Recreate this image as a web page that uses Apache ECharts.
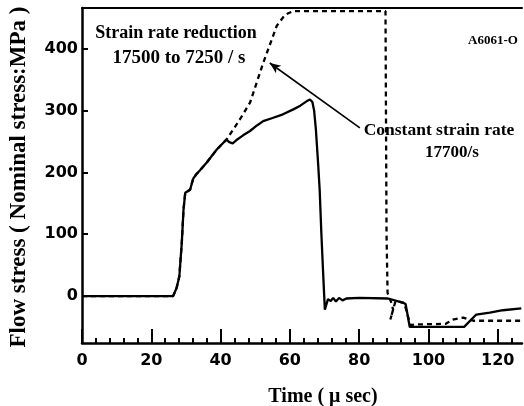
<!DOCTYPE html>
<html>
<head>
<meta charset="utf-8">
<script src="https://cdn.jsdelivr.net/npm/echarts@6.0.0/dist/echarts.min.js"></script>
<style>
html,body{margin:0;padding:0;background:#fff;}
#chart{width:524px;height:406px;}
</style>
</head>
<body>
<div id="chart"></div>
<script>
// Tick labels
var xTickLabels = [0, 20, 40, 60, 80, 100, 120];
var xMinorTicks = [4, 8, 12, 16, 24, 28, 32, 36, 44, 48, 52, 56, 64, 68, 72, 76, 84, 88, 92, 96, 104, 108, 112, 116, 124];
var yTickLabels = [0, 100, 200, 300, 400];

// Constant strain rate 17700/s (solid)
var constantRate = [
  [0,0],[26.3,0],[27.3,13],[28.1,32],[28.8,86],[29.3,140],[29.8,167],[30.3,170],[31.2,172],
  [31.6,180],[32.1,190],[33,197],[34,203],[36,216],[38.9,237],[40.8,248],[41.7,253],
  [42.5,249],[43.5,247],[44.5,252],[46.5,260],[48.5,267],[50.5,276],[52.3,283],[55,288],
  [58,294],[61,302],[63,308],[64.8,315],[65.8,318],[66.5,314],[67.0,300],[67.5,270],
  [68.2,210],[68.6,172],[69.1,100],[69.6,37],[70.1,-22],[70.4,-25],[71,-5],[71.8,-8],
  [72.5,-3],[73.3,-9],[74.2,-3],[75.2,-7],[76.3,-4],[80,-3],[88.3,-4],[90.8,-8],
  [92.7,-11],[93.4,-13],[94.6,-50],[110.3,-50],[113.8,-30],[117.7,-27],[121.5,-23],[126.8,-20]
];

// Strain rate reduction 17500 to 7250/s (dashed)
var rateReduction = [
  [0,0],[26.3,0],[27.3,13],[28.1,32],[28.8,86],[29.3,140],[29.8,167],[30.3,170],[31.2,172],
  [31.6,180],[32.1,190],[33,197],[34,203],[36,216],[38.9,237],[40.8,248],[41.7,253],
  [45.6,286],[48.5,313],[52.3,377],[56.2,437],[58.6,455],[60.9,461],[87.6,461],
  [87.9,100],[88.2,5],[89.3,-11],[89.8,-22],[89.0,-38],[90.5,-8],[93,-11],[94.8,-47],
  [96,-46],[105,-45],[107,-38],[110,-35],[113,-40],[127,-40]
];

// Arrow annotation (data coordinates)
var arrowFrom = [80.2, 272];
var arrowTo = [54.2, 377];

var chart = echarts.init(document.getElementById('chart'), null, {renderer: 'canvas'});
var labelFont = {fontFamily: 'DejaVu Sans', fontWeight: 'bold', fontSize: 16, color: '#000'};
var serif = '"Liberation Serif", "DejaVu Serif", serif';

chart.setOption({
  animation: false,
  backgroundColor: '#fff',
  grid: {left: 82, right: 2, top: 8, bottom: 63, containLabel: false, outerBoundsMode: 'none'},
  xAxis: [
    {
      type: 'value', min: 0, max: 127, position: 'bottom',
      axisLine: {show: true, onZero: false, lineStyle: {color: '#000', width: 2.5}},
      axisTick: {show: true, inside: true, length: 14, customValues: xTickLabels, lineStyle: {color: '#000', width: 2}},
      axisLabel: Object.assign({show: true, margin: 10, customValues: xTickLabels}, labelFont),
      splitLine: {show: false}
    },
    {
      type: 'value', min: 0, max: 127, position: 'bottom',
      axisLine: {show: false, onZero: false},
      axisTick: {show: true, inside: true, length: 5, customValues: xMinorTicks, lineStyle: {color: '#000', width: 2}},
      axisLabel: {show: false},
      splitLine: {show: false}
    },
    {
      type: 'value', min: 0, max: 127, position: 'top',
      axisLine: {show: true, onZero: false, lineStyle: {color: '#000', width: 2}},
      axisTick: {show: false},
      axisLabel: {show: false},
      splitLine: {show: false}
    }
  ],
  yAxis: {
    type: 'value', min: -76, max: 466,
    axisLine: {show: true, onZero: false, lineStyle: {color: '#000', width: 2.5}},
    axisTick: {show: true, inside: true, length: 6, customValues: yTickLabels, lineStyle: {color: '#000', width: 2}},
    axisLabel: Object.assign({show: true, margin: 4, customValues: yTickLabels}, labelFont),
    splitLine: {show: false}
  },
  series: [
    {
      name: 'Constant strain rate 17700/s', type: 'line', xAxisIndex: 0, data: constantRate,
      showSymbol: false, smooth: false,
      lineStyle: {color: '#000', width: 2.3},
      markLine: {
        silent: true, symbol: ['none', 'arrow'], symbolSize: [7, 11],
        label: {show: false},
        lineStyle: {color: '#000', width: 1.6, type: 'solid'},
        data: [[{coord: arrowFrom}, {coord: arrowTo}]]
      }
    },
    {
      name: 'Strain rate reduction', type: 'line', xAxisIndex: 0, data: rateReduction,
      showSymbol: false, smooth: false,
      lineStyle: {color: '#000', width: 2.3, type: [5, 4]}
    }
  ],
  graphic: [
    {type: 'text', x: 176, y: 33, style: {text: 'Strain rate reduction', font: 'bold 18px ' + serif, fill: '#000', align: 'center', verticalAlign: 'middle'}},
    {type: 'text', x: 179, y: 58, style: {text: '17500 to 7250 / s', font: 'bold 19px ' + serif, fill: '#000', align: 'center', verticalAlign: 'middle'}},
    {type: 'text', x: 493, y: 41, style: {text: 'A6061-O', font: 'bold 13px ' + serif, fill: '#000', align: 'center', verticalAlign: 'middle'}},
    {type: 'text', x: 439, y: 130, style: {text: 'Constant strain rate', font: 'bold 17.5px ' + serif, fill: '#000', align: 'center', verticalAlign: 'middle'}},
    {type: 'text', x: 452, y: 153, style: {text: '17700/s', font: 'bold 17px ' + serif, fill: '#000', align: 'center', verticalAlign: 'middle'}},
    {type: 'text', x: 19, y: 177, rotation: Math.PI / 2, style: {text: 'Flow stress ( Nominal stress:MPa )', font: 'bold 23px ' + serif, fill: '#000', align: 'center', verticalAlign: 'middle'}},
    {type: 'text', x: 323, y: 397, style: {text: 'Time ( \u03bc sec)', font: 'bold 20px ' + serif, fill: '#000', align: 'center', verticalAlign: 'middle'}}
  ]
});
</script>
</body>
</html>
